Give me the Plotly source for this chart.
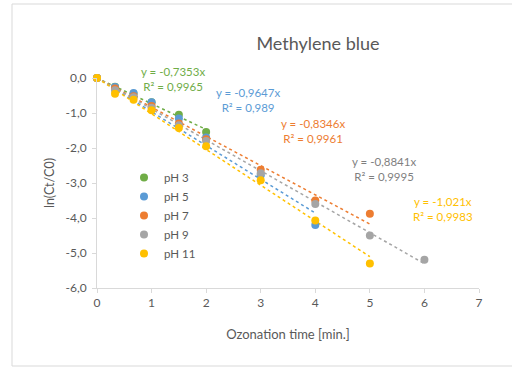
import plotly.graph_objects as go

# ---- data ----
time_min = [0, 0.33, 0.67, 1, 1.5, 2, 3, 4, 5, 6]
series_names = ["pH 3", "pH 5", "pH 7", "pH 9", "pH 11"]
ph3 = [0, -0.25, -0.45, -0.69, -1.05, -1.54]
ph5 = [0, -0.26, -0.43, -0.69, -1.16, -1.70, -2.78, -4.20]
ph7 = [0, -0.30, -0.52, -0.80, -1.30, -1.75, -2.62, -3.50, -3.88]
ph9 = [0, -0.35, -0.55, -0.85, -1.35, -1.80, -2.72, -3.60, -4.50, -5.19]
ph11 = [0, -0.45, -0.62, -0.92, -1.43, -1.95, -2.92, -4.07, -5.30]
slopes = [-0.7353, -0.9647, -0.8346, -0.8841, -1.021]
r2 = ["0,9965", "0,989", "0,9961", "0,9995", "0,9983"]
slope_labels = ["-0,7353x", "-0,9647x", "-0,8346x", "-0,8841x", "-1,021x"]

x_ticks = [0, 1, 2, 3, 4, 5, 6, 7]
y_ticks = [0, -1, -2, -3, -4, -5, -6]
y_ticktext = ["0,0", "-1,0", "-2,0", "-3,0", "-4,0", "-5,0", "-6,0"]

colors = ["#70AD47", "#5B9BD5", "#ED7D31", "#A5A5A5", "#FFC000"]
label_colors = ["#70AD47", "#5B9BD5", "#ED7D31", "#7F7F7F", "#FFC000"]
# label centre positions in page pixels
label_px = [(173, 78.5), (248, 100.5), (313, 130.5), (384, 168.5), (443, 208.5)]

all_series = [ph3, ph5, ph7, ph9, ph11]

FONT = "Lato"
TXT = "#595959"

L, R, T, B = 97, 33, 78, 80
W, H = 512, 368
pw, ph = W - L - R, H - T - B

def px2paper_x(px):
    return (px - L) / pw

def px2paper_y(py):
    return (H - B - py) / ph

fig = go.Figure()

# trendlines first (behind markers)
for ys, s, c in zip(all_series, slopes, colors):
    xs = time_min[:len(ys)]
    fig.add_trace(go.Scatter(
        x=[0, xs[-1]], y=[0, s * xs[-1]], mode="lines",
        line=dict(color=c, width=1.5, dash="dot"),
        showlegend=False, hoverinfo="skip", cliponaxis=False))

for name, ys, c in zip(series_names, all_series, colors):
    fig.add_trace(go.Scatter(
        x=time_min[:len(ys)], y=ys, mode="markers", name=name,
        marker=dict(color=c, size=8), cliponaxis=False))

for (px, py), sl, r, c in zip(label_px, slope_labels, r2, label_colors):
    fig.add_annotation(
        x=px2paper_x(px), y=px2paper_y(py), xref="paper", yref="paper",
        showarrow=False, xanchor="center", yanchor="middle",
        text=f"y = {sl}<br>R² = {r}", align="center",
        font=dict(family=FONT, size=11.5, color=c))

fig.add_shape(type="rect", xref="paper", yref="paper",
              x0=px2paper_x(12), x1=px2paper_x(520),
              y0=px2paper_y(366), y1=px2paper_y(4),
              line=dict(color="#D9D9D9", width=1), fillcolor="rgba(0,0,0,0)",
              layer="below")

fig.update_layout(
    width=W, height=H,
    margin=dict(l=L, r=R, t=T, b=B),
    paper_bgcolor="white", plot_bgcolor="white",
    font=dict(family=FONT, color=TXT, size=11),
    title=dict(text="Methylene blue", x=px2paper_x(318), xref="paper",
               xanchor="center", y=1 - 44 / H, yanchor="middle",
               font=dict(family=FONT, size=18, color=TXT)),
    legend=dict(x=px2paper_x(124), y=px2paper_y(163), xanchor="left", yanchor="top",
                bgcolor="rgba(0,0,0,0)", font=dict(size=11.5, color=TXT),
                itemwidth=30, tracegroupgap=0),
    showlegend=True,
)

fig.update_xaxes(range=[0, 7], tickvals=x_ticks, ticktext=[str(v) for v in x_ticks],
                 showgrid=False, zeroline=False, showline=True, linecolor="#D9D9D9",
                 linewidth=1, ticks="outside", ticklen=4, tickcolor="#D9D9D9",
                 tickfont=dict(size=12, color=TXT),
                 title=dict(text="Ozonation time [min.]", standoff=20,
                            font=dict(size=13, color=TXT)))
fig.update_yaxes(range=[-6, 0], tickvals=y_ticks, ticktext=y_ticktext,
                 showgrid=False, zeroline=False, showline=True, linecolor="#D9D9D9",
                 linewidth=1, ticks="outside", ticklen=4, tickcolor="#D9D9D9",
                 ticklabelstandoff=3,
                 tickfont=dict(size=12, color=TXT),
                 title=dict(text="ln(Ct/C0)", standoff=8,
                            font=dict(size=12.5, color=TXT)))

fig.write_html("out.html", config={"displayModeBar": False},
               post_script="document.body.style.margin='0px';")
